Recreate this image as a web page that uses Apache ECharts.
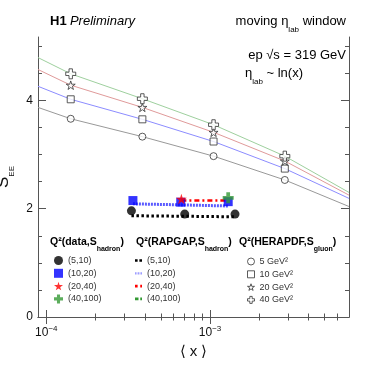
<!DOCTYPE html>
<html>
<head>
<meta charset="utf-8">
<script src="https://cdn.jsdelivr.net/npm/echarts@6/dist/echarts.min.js"></script>
<style>
html, body { margin: 0; padding: 0; background: #fff; }
#chart { width: 388px; height: 373px; }
</style>
</head>
<body>
<div id="chart"></div>
<script>
// axis ranges and ticks (x is log10 scaled)
var xRange = [8.9e-5, 7.05e-3];
var yRange = [0, 5.17];
var xMajorTicks = [1e-4, 1e-3];
var xMinorTicks = [2e-4, 3e-4, 4e-4, 5e-4, 6e-4, 7e-4, 8e-4, 9e-4, 2e-3, 3e-3, 4e-3, 5e-3, 6e-3];
var yMajorTicks = [0, 2, 4];
var yMinorTicks = [0.5, 1, 1.5, 2.5, 3, 3.5, 4.5, 5];

// HERAPDF, S_gluon (open markers + thin lines)
var pdfNames = ['5 GeV²', '10 GeV²', '20 GeV²', '40 GeV²'];
var pdfX = [1.41e-4, 3.86e-4, 1.05e-3, 2.86e-3];
var pdf5 = [3.66, 3.33, 2.97, 2.53];
var pdf10 = [4.02, 3.65, 3.24, 2.74];
var pdf20 = [4.28, 3.87, 3.41, 2.88];
var pdf40 = [4.49, 4.03, 3.55, 2.97];
// curve values at the left / right edge of the x range
var pdfEdgeL = [3.87, 4.26, 4.57, 4.79];
var pdfEdgeR = [2.04, 2.19, 2.25, 2.30];

// data, S_hadron
var dataNames = ['(5,10)', '(10,20)', '(20,40)', '(40,100)'];
var dataX5 = [3.31e-4, 7.0e-4, 1.42e-3];
var data5 = [1.96, 1.90, 1.90];
var dataX10 = [3.38e-4, 6.62e-4, 1.29e-3];
var data10 = [2.15, 2.12, 2.13];
var dataX20 = [6.68e-4];
var data20 = [2.18];
var dataX40 = [1.29e-3];
var data40 = [2.20];

// RAPGAP, S_hadron
var rapX5 = [3.31e-4, 7.0e-4, 1.42e-3];
var rap5 = [1.87, 1.86, 1.85];
var rapX10 = [3.38e-4, 6.62e-4, 1.29e-3];
var rap10 = [2.09, 2.07, 2.05];
var rapX20 = [6.68e-4, 1.29e-3];
var rap20 = [2.15, 2.15];
var rapX40 = [1.29e-3];
var rap40 = [2.17];

var FONT = "'Liberation Sans', Arial, sans-serif";
var STAR = 'path://M50,0 L61,35 L98,35 L68,57 L79,91 L50,70 L21,91 L32,57 L2,35 L39,35 Z';
var PLUS = 'path://M33,0 H67 V33 H100 V67 H67 V100 H33 V67 H0 V33 H33 Z';

function lg(v) { return Math.log10(v); }
function pts(xs, ys) {
  return xs.map(function (x, i) { return [lg(x), ys[i]]; });
}

var chart = echarts.init(document.getElementById('chart'));

var series = [];
var pdfVals = [pdf5, pdf10, pdf20, pdf40];
var pdfLineColors = ['#999999', '#8c8cff', '#e09a9a', '#9ed09e'];
var pdfSymbols = ['circle', 'rect', STAR, PLUS];
var pdfSizes = [7, 7, 9, 10];
pdfVals.forEach(function (vals, i) {
  series.push({
    name: 'pdfline' + i,
    type: 'line',
    data: pts([xRange[0]].concat(pdfX, [xRange[1]]), [pdfEdgeL[i]].concat(vals, [pdfEdgeR[i]])),
    symbol: 'none',
    lineStyle: { color: pdfLineColors[i], width: 1 },
    z: 1,
    silent: true
  });
  series.push({
    name: pdfNames[i],
    type: 'scatter',
    data: pts(pdfX, vals),
    symbol: pdfSymbols[i],
    symbolSize: pdfSizes[i],
    symbolKeepAspect: true,
    itemStyle: { color: '#fff', borderColor: '#333', borderWidth: 1 },
    z: 3
  });
});

var rapX = [rapX5, rapX10, rapX20, rapX40];
var rapVals = [rap5, rap10, rap20, rap40];
var rapColors = ['#000000', '#5a5aff', '#ff0000', '#339933'];
var rapTypes = [[2.5, 2.5], [2, 1], [5, 3, 2, 3], [5, 3, 2, 3]];
var rapWidths = [3, 3, 2.5, 2.5];
// small legend glyphs imitating each line pattern
var rapIcons = [
  'path://M0,0H3V3H0Z M5,0H8V3H5Z',
  'path://M0,0H1V3H0Z M2,0H3V3H2Z M4,0H5V3H4Z M6,0H7V3H6Z M8,0H9V3H8Z',
  'path://M0,0H3V3H0Z M6,0H8V3H6Z',
  'path://M0,0H4V3H0Z M6,0H8V3H6Z'
];
var rapLegendColors = ['#000000', '#8080ff', '#ff0000', '#339933'];
rapVals.forEach(function (vals, i) {
  series.push({
    name: 'R' + dataNames[i],
    type: 'line',
    data: pts(rapX[i], vals),
    symbol: 'none',
    lineStyle: { color: rapColors[i], width: rapWidths[i], type: rapTypes[i] },
    itemStyle: { color: rapColors[i] },
    z: 2
  });
});

var dataX = [dataX5, dataX10, dataX20, dataX40];
var dataVals = [data5, data10, data20, data40];
var dataColors = ['#000000', '#0000ff', '#ff0000', '#339933'];
var dataSymbols = ['circle', 'rect', STAR, PLUS];
var dataSizes = [9, 9, 11, 11];
dataVals.forEach(function (vals, i) {
  series.push({
    name: dataNames[i],
    type: 'scatter',
    data: pts(dataX[i], vals),
    symbol: dataSymbols[i],
    symbolSize: dataSizes[i],
    symbolKeepAspect: true,
    itemStyle: { color: dataColors[i] },
    z: 4
  });
});

var axisColor = '#555';
function xAxisDef(pos, ticks, len, isMain) {
  return {
    type: 'value',
    position: pos,
    min: lg(xRange[0]),
    max: lg(xRange[1]),
    axisLine: { show: isMain, lineStyle: { color: axisColor, width: 1 } },
    axisTick: { show: true, inside: true, length: len, customValues: ticks.map(lg), lineStyle: { color: axisColor } },
    axisLabel: { show: false },
    splitLine: { show: false }
  };
}
function yAxisDef(pos, ticks, len, isMain) {
  return {
    type: 'value',
    position: pos,
    min: yRange[0],
    max: yRange[1],
    axisLine: { show: isMain, lineStyle: { color: axisColor, width: 1 } },
    axisTick: { show: true, inside: true, length: len, customValues: ticks, lineStyle: { color: axisColor } },
    axisLabel: { show: false },
    splitLine: { show: false }
  };
}

var xMain = xAxisDef('bottom', xMajorTicks, 7, true);
xMain.axisLabel = {
  show: true,
  customValues: xMajorTicks.map(lg),
  margin: 8,
  formatter: function (v) { return '{b|10}{s|\u2212' + Math.abs(Math.round(v)) + '}'; },
  rich: {
    b: { fontSize: 12, lineHeight: 16, color: '#111', fontFamily: FONT },
    s: { fontSize: 8, lineHeight: 10, verticalAlign: 'top', color: '#111', fontFamily: FONT }
  }
};
xMain.name = '\u27E8 x \u27E9';
xMain.nameLocation = 'middle';
xMain.nameGap = 25;
xMain.nameTextStyle = { fontSize: 15, color: '#111', fontFamily: FONT };

var yMain = yAxisDef('left', yMajorTicks, 8, true);
yMain.axisLabel = {
  show: true,
  customValues: yMajorTicks,
  margin: 5,
  fontSize: 12,
  color: '#111',
  fontFamily: FONT
};
yMain.name = '{s|S}{e|EE}';
yMain.nameLocation = 'middle';
yMain.nameRotate = 90;
yMain.nameGap = 17;
yMain.nameTextStyle = {
  rich: {
    s: { fontSize: 17, lineHeight: 24, color: '#111', fontFamily: FONT },
    e: { fontSize: 8, lineHeight: 10, verticalAlign: 'bottom', color: '#111', fontFamily: FONT }
  }
};

var hdrRich = {
  m: { fontSize: 10.5, fontWeight: 'bold', lineHeight: 22, color: '#111', fontFamily: FONT },
  s: { fontSize: 7, fontWeight: 'bold', lineHeight: 8, verticalAlign: 'bottom', color: '#111', fontFamily: FONT }
};
var txtRich = {
  m: { fontSize: 13, lineHeight: 24, color: '#111', fontFamily: FONT },
  s: { fontSize: 8, lineHeight: 9, verticalAlign: 'bottom', color: '#111', fontFamily: FONT }
};

var option = {
  animation: false,
  backgroundColor: '#fff',
  textStyle: { fontFamily: FONT },
  grid: {
    left: 38, right: 39, top: 37, bottom: 56,
    containLabel: false,
    outerBoundsMode: 'none'
  },
  xAxis: [
    xMain,
    xAxisDef('bottom', xMinorTicks, 3.5, false),
    xAxisDef('top', xMajorTicks, 7, true),
    xAxisDef('top', xMinorTicks, 3.5, false)
  ],
  yAxis: [
    yMain,
    yAxisDef('left', yMinorTicks, 4, false),
    yAxisDef('right', yMajorTicks, 8, true),
    yAxisDef('right', yMinorTicks, 4, false)
  ],
  legend: [
    {
      data: dataNames,
      orient: 'vertical', left: 54, top: 256, padding: 0,
      itemWidth: 9, itemHeight: 9, itemGap: 3.8,
      selectedMode: false,
      itemStyle: { borderWidth: 0 },
      textStyle: { fontSize: 9, lineHeight: 9, color: '#333', fontFamily: FONT }
    },
    {
      data: dataNames.map(function (n, i) {
        return { name: 'R' + n, icon: rapIcons[i], itemStyle: { color: rapLegendColors[i], borderWidth: 0 } };
      }),
      formatter: function (n) { return n.slice(1); },
      orient: 'vertical', left: 135, top: 255.5, padding: 0,
      itemWidth: 7, itemHeight: 10, itemGap: 2.8,
      selectedMode: false,
      textStyle: { fontSize: 9, lineHeight: 10, color: '#333', fontFamily: FONT }
    },
    {
      data: pdfNames,
      orient: 'vertical', left: 247, top: 256.5, padding: 0,
      itemWidth: 7, itemHeight: 7, itemGap: 2.8,
      selectedMode: false,
      itemStyle: { borderWidth: 1 },
      textStyle: { fontSize: 9, lineHeight: 10, color: '#333', fontFamily: FONT }
    }
  ],
  graphic: [
    { type: 'text', x: 50, y: 21.5, style: {
      text: '{b|H1} {i|Preliminary}', verticalAlign: 'middle',
      rich: {
        b: { fontSize: 13, fontWeight: 'bold', color: '#111', fontFamily: FONT },
        i: { fontSize: 13, fontStyle: 'italic', color: '#111', fontFamily: FONT }
      } } },
    { type: 'text', x: 346, y: 21.5, style: {
      text: '{m|moving \u03B7}{s|lab}{m| window}', align: 'right', verticalAlign: 'middle', rich: txtRich } },
    { type: 'text', x: 346, y: 55, style: {
      text: '{m|ep \u221As = 319 GeV}', align: 'right', verticalAlign: 'middle', rich: txtRich } },
    { type: 'text', x: 245, y: 73.5, style: {
      text: '{m|\u03B7}{s|lab}{m| ~ ln(x)}', verticalAlign: 'middle', rich: txtRich } },
    { type: 'text', x: 50, y: 242, style: {
      text: '{m|Q²(data,S}{s|hadron}{m|)}', verticalAlign: 'middle', rich: hdrRich } },
    { type: 'text', x: 136, y: 242, style: {
      text: '{m|Q²(RAPGAP,S}{s|hadron}{m|)}', verticalAlign: 'middle', rich: hdrRich } },
    { type: 'text', x: 239, y: 242, style: {
      text: '{m|Q²(HERAPDF,S}{s|gluon}{m|)}', verticalAlign: 'middle', rich: hdrRich } }
  ],
  series: series
};

chart.setOption(option);
</script>
</body>
</html>
